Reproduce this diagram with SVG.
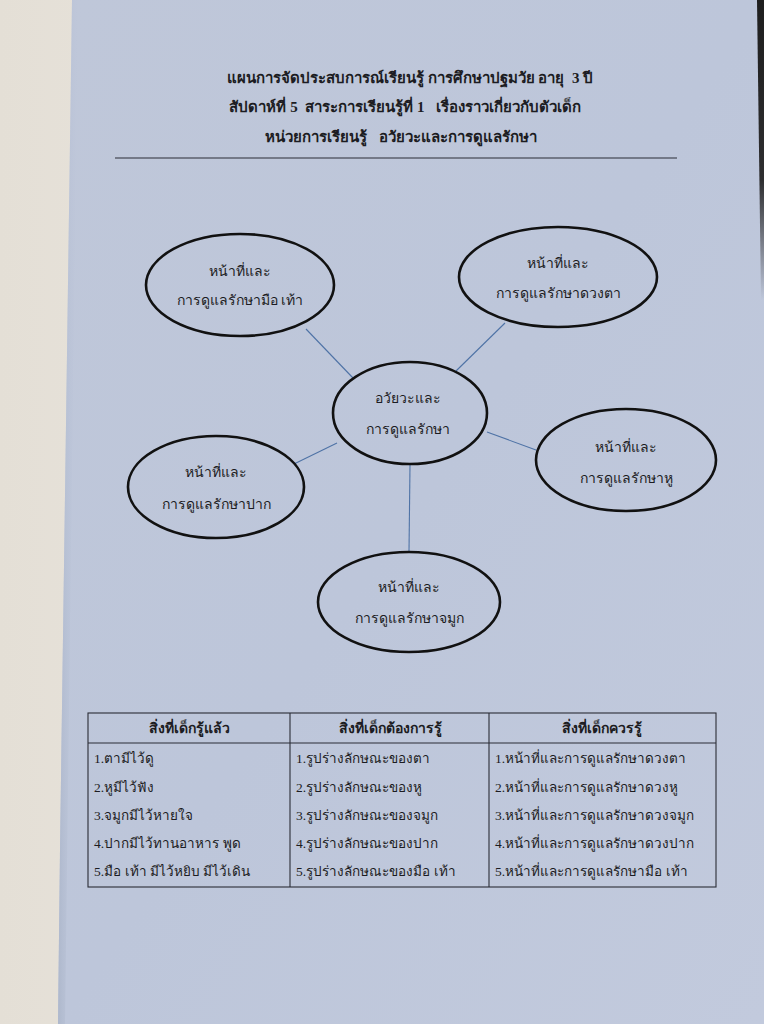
<svg xmlns="http://www.w3.org/2000/svg" width="764" height="1024" viewBox="0 0 764 1024">
<defs>
<linearGradient id="cream" x1="0" y1="0" x2="1" y2="0">
<stop offset="0" stop-color="#e4dfd6"/>
<stop offset="0.7" stop-color="#eeeae3"/>
<stop offset="1" stop-color="#e6e2dc"/>
</linearGradient>
<linearGradient id="paper" x1="0" y1="0" x2="1" y2="1">
<stop offset="0" stop-color="#bfc7d9"/>
<stop offset="0.5" stop-color="#bdc6da"/>
<stop offset="1" stop-color="#c2cadd"/>
</linearGradient>
<linearGradient id="edge" x1="0" y1="0" x2="1" y2="0">
<stop offset="0" stop-color="#aeb8cc"/>
<stop offset="1" stop-color="#bcc5d9" stop-opacity="0"/>
</linearGradient>
<linearGradient id="dark" x1="0" y1="0" x2="0" y2="1">
<stop offset="0" stop-color="#1e1e1e"/>
<stop offset="0.6" stop-color="#2e2e30"/>
<stop offset="1" stop-color="#2e2e30" stop-opacity="0"/>
</linearGradient>
</defs>
<style>
text{font-family:"Liberation Serif","DejaVu Serif",serif;fill:#1c1c22}
.t{font-size:15px;font-weight:bold;text-anchor:middle;white-space:pre}
.n{font-size:14px;text-anchor:middle}
.h{font-size:14px;font-weight:bold;text-anchor:middle}
.c{font-size:13.5px}
.ell{fill:none;stroke:#111;stroke-width:2.6}
.con line{stroke:#4f73a6;stroke-width:1.1}
.tb{fill:none;stroke:#2a2d36;stroke-width:1.1}
</style>
<rect x="0" y="0" width="764" height="1024" fill="url(#cream)"/>
<polygon points="72,0 764,0 764,1024 58,1024 60,850" fill="url(#paper)"/>
<polygon points="72,0 78,0 65,1024 58,1024 60,850" fill="url(#edge)"/>
<polygon points="757,0 764,0 764,300 761,300" fill="url(#dark)"/>

<g id="title">
<text class="t" x="410" y="83" xml:space="preserve">แผนการจัดประสบการณ์เรียนรู้ การศึกษาปฐมวัย อายุ  3 ปี</text>
<text class="t" x="405" y="112" xml:space="preserve">สัปดาห์ที่ 5  สาระการเรียนรู้ที่ 1   เรื่องราวเกี่ยวกับตัวเด็ก</text>
<text class="t" x="401" y="142" xml:space="preserve">หน่วยการเรียนรู้   อวัยวะและการดูแลรักษา</text>
<line x1="115" y1="158" x2="677" y2="158" stroke="#2a2d36" stroke-width="1.2"/>
</g>

<g class="con" id="connectors">
<line x1="306" y1="329" x2="353" y2="378"/>
<line x1="505" y1="323" x2="456" y2="371"/>
<line x1="337" y1="443" x2="294" y2="464"/>
<line x1="487" y1="432" x2="536" y2="450"/>
<line x1="410" y1="465" x2="409" y2="552"/>
</g>

<g id="node-hand">
<ellipse class="ell" cx="240" cy="285" rx="94" ry="51"/>
<text class="n" x="240" y="276">หน้าที่และ</text>
<text class="n" x="240" y="305">การดูแลรักษามือ เท้า</text>
</g>
<g id="node-eye">
<ellipse class="ell" cx="558" cy="277" rx="99" ry="50"/>
<text class="n" x="558" y="268">หน้าที่และ</text>
<text class="n" x="558" y="298">การดูแลรักษาดวงตา</text>
</g>
<g id="node-center">
<ellipse class="ell" cx="410" cy="413" rx="77" ry="51"/>
<text class="n" x="408" y="403">อวัยวะและ</text>
<text class="n" x="408" y="434">การดูแลรักษา</text>
</g>
<g id="node-ear">
<ellipse class="ell" cx="626" cy="460" rx="90" ry="51"/>
<text class="n" x="626" y="452">หน้าที่และ</text>
<text class="n" x="626" y="483">การดูแลรักษาหู</text>
</g>
<g id="node-mouth">
<ellipse class="ell" cx="216" cy="487" rx="88" ry="51"/>
<text class="n" x="216" y="477">หน้าที่และ</text>
<text class="n" x="216" y="509">การดูแลรักษาปาก</text>
</g>
<g id="node-nose">
<ellipse class="ell" cx="409" cy="602" rx="91" ry="50"/>
<text class="n" x="409" y="592">หน้าที่และ</text>
<text class="n" x="409" y="623">การดูแลรักษาจมูก</text>
</g>

<g id="table">
<rect class="tb" x="88" y="713" width="628" height="174"/>
<line class="tb" x1="88" y1="743" x2="716" y2="743"/>
<line class="tb" x1="290" y1="713" x2="290" y2="887"/>
<line class="tb" x1="489" y1="713" x2="489" y2="887"/>
<text class="h" x="189" y="733">สิ่งที่เด็กรู้แล้ว</text>
<text class="h" x="390" y="733">สิ่งที่เด็กต้องการรู้</text>
<text class="h" x="602" y="733">สิ่งที่เด็กควรรู้</text>
<text class="c" x="94" y="763">1.ตามีไว้ดู</text>
<text class="c" x="94" y="792">2.หูมีไว้ฟัง</text>
<text class="c" x="94" y="820">3.จมูกมีไว้หายใจ</text>
<text class="c" x="94" y="848">4.ปากมีไว้ทานอาหาร พูด</text>
<text class="c" x="94" y="876">5.มือ เท้า มีไว้หยิบ มีไว้เดิน</text>
<text class="c" x="296" y="763">1.รูปร่างลักษณะของตา</text>
<text class="c" x="296" y="792">2.รูปร่างลักษณะของหู</text>
<text class="c" x="296" y="820">3.รูปร่างลักษณะของจมูก</text>
<text class="c" x="296" y="848">4.รูปร่างลักษณะของปาก</text>
<text class="c" x="296" y="876">5.รูปร่างลักษณะของมือ เท้า</text>
<text class="c" x="495" y="763">1.หน้าที่และการดูแลรักษาดวงตา</text>
<text class="c" x="495" y="792">2.หน้าที่และการดูแลรักษาดวงหู</text>
<text class="c" x="495" y="820">3.หน้าที่และการดูแลรักษาดวงจมูก</text>
<text class="c" x="495" y="848">4.หน้าที่และการดูแลรักษาดวงปาก</text>
<text class="c" x="495" y="876">5.หน้าที่และการดูแลรักษามือ เท้า</text>
</g>
</svg>
